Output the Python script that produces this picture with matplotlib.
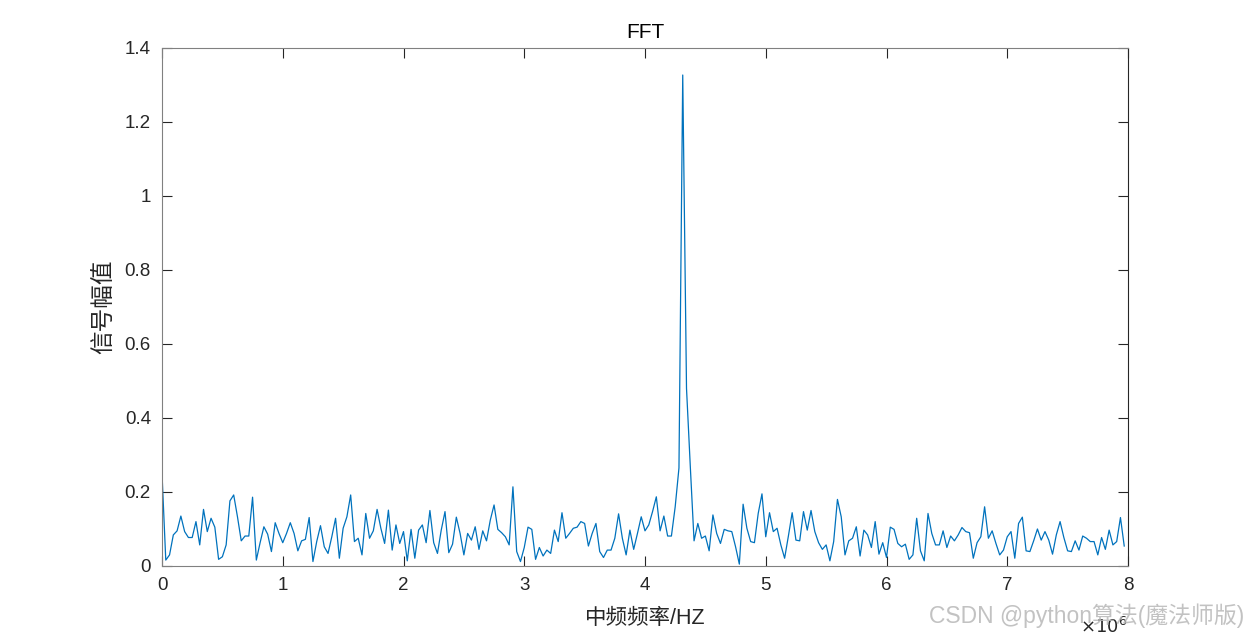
import matplotlib.pyplot as plt
import numpy as np

plt.rcParams['font.family'] = ['Liberation Sans', 'Noto Sans CJK SC', 'DejaVu Sans']

# FFT magnitude, 256 bins spanning 0..8 (x10^6)
freq = np.linspace(0, 8, 256, endpoint=False)
amp = [
    0.250, 0.016, 0.030, 0.084, 0.095, 0.135, 0.093, 0.077, 0.077, 0.120,
    0.057, 0.153, 0.093, 0.129, 0.105, 0.018, 0.025, 0.057, 0.176, 0.192,
    0.133, 0.068, 0.081, 0.081, 0.186, 0.016, 0.063, 0.106, 0.086, 0.039,
    0.117, 0.088, 0.063, 0.088, 0.117, 0.088, 0.041, 0.068, 0.072, 0.131,
    0.012, 0.066, 0.109, 0.052, 0.034, 0.079, 0.129, 0.021, 0.102, 0.133,
    0.192, 0.066, 0.075, 0.030, 0.142, 0.075, 0.095, 0.153, 0.102, 0.061,
    0.151, 0.043, 0.111, 0.061, 0.093, 0.014, 0.099, 0.021, 0.097, 0.111,
    0.063, 0.150, 0.063, 0.034, 0.097, 0.147, 0.036, 0.059, 0.132, 0.088,
    0.030, 0.088, 0.070, 0.106, 0.045, 0.095, 0.068, 0.124, 0.165, 0.099,
    0.090, 0.079, 0.057, 0.214, 0.039, 0.012, 0.050, 0.105, 0.099, 0.018,
    0.050, 0.027, 0.043, 0.034, 0.097, 0.066, 0.144, 0.075, 0.088, 0.102,
    0.105, 0.120, 0.115, 0.054, 0.088, 0.115, 0.039, 0.023, 0.043, 0.043,
    0.075, 0.141, 0.075, 0.030, 0.097, 0.045, 0.088, 0.133, 0.095, 0.111,
    0.147, 0.187, 0.095, 0.135, 0.081, 0.081, 0.160, 0.265, 1.327, 0.480,
    0.270, 0.068, 0.115, 0.075, 0.081, 0.041, 0.138, 0.088, 0.061, 0.099,
    0.095, 0.093, 0.052, 0.005, 0.167, 0.102, 0.066, 0.063, 0.142, 0.195,
    0.079, 0.144, 0.093, 0.102, 0.057, 0.021, 0.081, 0.144, 0.070, 0.068,
    0.147, 0.097, 0.150, 0.093, 0.063, 0.045, 0.057, 0.014, 0.066, 0.180,
    0.133, 0.030, 0.068, 0.075, 0.106, 0.027, 0.097, 0.084, 0.050, 0.120,
    0.032, 0.063, 0.023, 0.105, 0.099, 0.061, 0.052, 0.059, 0.018, 0.030,
    0.129, 0.041, 0.014, 0.142, 0.088, 0.057, 0.057, 0.095, 0.050, 0.081,
    0.068, 0.084, 0.104, 0.093, 0.090, 0.021, 0.063, 0.079, 0.160, 0.075,
    0.095, 0.061, 0.030, 0.043, 0.079, 0.093, 0.021, 0.115, 0.132, 0.041,
    0.039, 0.068, 0.100, 0.070, 0.093, 0.070, 0.032, 0.084, 0.120, 0.077,
    0.041, 0.039, 0.068, 0.043, 0.081, 0.075, 0.066, 0.066, 0.030, 0.077,
    0.045, 0.097, 0.057, 0.066, 0.131, 0.054,
]

fig = plt.figure(figsize=(12.48, 6.36), dpi=100)
ax = fig.add_axes([162 / 1248, 70 / 636, 966 / 1248, 518 / 636])

ax.plot(freq, amp, color='#0072BD', linewidth=0.9)

ax.set_xlim(0, 8)
ax.set_ylim(0, 1.4)
ax.set_xticks(range(0, 9))
ax.set_yticks([0, 0.2, 0.4, 0.6, 0.8, 1, 1.2, 1.4])
ax.set_yticklabels(['0', '0.2', '0.4', '0.6', '0.8', '1', '1.2', '1.4'])
ax.tick_params(direction='in', length=7, width=0.8, colors='#262626',
               labelsize=13.5, top=True, right=True, pad=8)
for side in ['left', 'top', 'bottom']:
    ax.spines[side].set_color('#808080')
ax.spines['right'].set_color('#262626')

ax.set_title('FFT', fontsize=15, color='#000000', pad=7)
ax.set_xlabel('中频频率/HZ', fontsize=15.5, color='#262626', labelpad=10)
ax.set_ylabel('信号幅值', fontsize=17, color='#262626', labelpad=6)

fig.text(1080 / 1248, 1 - 627 / 636, r'$\times10^{6}$', fontsize=13,
         color='#262626', va='center')
fig.text(1244 / 1248, 1 - 616 / 636, 'CSDN @python算法(魔法师版)',
         fontsize=16.5, color='#b8b8b8', ha='right', va='center', alpha=0.85)

fig.savefig('out.png', dpi=100)
